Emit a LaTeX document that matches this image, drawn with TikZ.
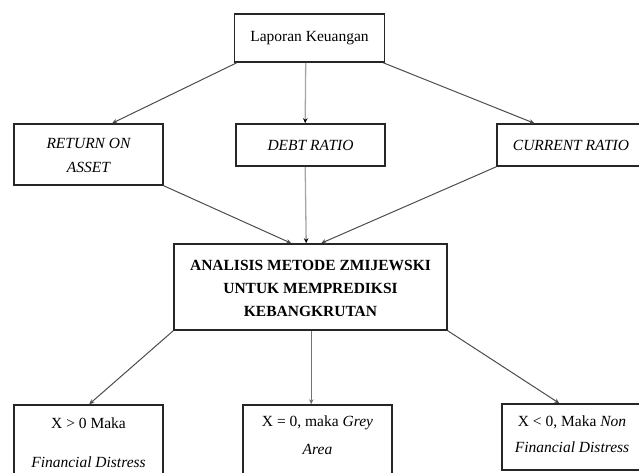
\documentclass[tikz,border=0pt]{standalone}
\usepackage{fontspec}
\setmainfont{Liberation Serif}
\usetikzlibrary{arrows.meta,calc}
\begin{document}
\begin{tikzpicture}[x=1pt,y=-1pt,
  box/.style={draw=black!85,line width=1.6pt,fill=white,inner sep=0pt,align=center},
  conn/.style={draw=black!70,line width=1pt,-{Stealth[length=5pt,width=4.5pt]}},
  lconn/.style={draw=black!35,line width=1.3pt,-{Stealth[length=5pt,width=4.5pt,color=black]}},
  txt/.style={font=\fontsize{15.5}{17}\selectfont}]
\useasboundingbox (0,0) rectangle (639,472);
% boxes
\node[box,minimum width=150pt,minimum height=48pt] (lap) at (309.5,38) {};
\node[txt] (laptxt) at (309.5,38) {Laporan Keuangan};
\node[box,minimum width=149pt,minimum height=61pt] (roa) at (88.5,154.5) {};
\node[align=center,font=\fontsize{15.5}{24}\selectfont\itshape] (roatxt) at (88.5,155) {RETURN ON\\ ASSET};
\node[box,minimum width=149pt,minimum height=42pt] (debt) at (310.5,145) {};
\node[txt] (debttxt) at (310.5,145) {\itshape DEBT RATIO};
\node[box,minimum width=150pt,minimum height=42pt] (cur) at (572,145) {};
\node[txt] (curtxt) at (571,145) {\itshape CURRENT RATIO};
\node[box,minimum width=273pt,minimum height=86pt] (main) at (310.5,287) {};
\node[align=center,font=\fontsize{15.5}{23}\selectfont\bfseries] (maintxt) at (310.5,288) {ANALISIS METODE ZMIJEWSKI\\ UNTUK MEMPREDIKSI\\ KEBANGKRUTAN};
\node[box,minimum width=149pt,minimum height=70pt] (b1) at (88.5,440) {};
\node[txt] (b1a) at (88.5,423) {X > 0 Maka};
\node[txt] (b1b) at (88.5,462) {\itshape Financial Distress};
\node[box,minimum width=149pt,minimum height=70pt] (b2) at (317.5,440) {};
\node[txt] (b2a) at (317.5,423) {X = 0, maka \itshape Grey};
\node[txt] (b2b) at (317.5,449) {\itshape Area};
\node[box,minimum width=150pt,minimum height=66pt] (b3) at (577,437) {};
\node[txt] (b3a) at (572,422) {X < 0, Maka \itshape Non};
\node[txt] (b3b) at (572,447) {\itshape Financial Distress};
% connectors
\draw[conn] ($(lap.south west)+(3,0)$) -- ($(roa.north west)+(99,0)$);
\draw[lconn] ($(lap.south west)+(72,0)$) -- ($(debt.north west)+(70,0)$);
\draw[conn] ($(lap.south east)+(-2,0)$) -- ($(cur.north west)+(38,0)$);
\draw[conn] (roa.south east) -- ($(main.north west)+(118,0)$);
\draw[lconn] ($(debt.south west)+(70,0)$) -- ($(main.north west)+(133,0)$);
\draw[conn] (cur.south west) -- ($(main.north west)+(148,0)$);
\draw[conn] (main.south west) -- ($(b1.north west)+(76,0)$);
\draw[conn,draw=black!55] ($(main.south west)+(138,0)$) -- ($(b2.north west)+(69,0)$);
\draw[conn] (main.south east) -- ($(b3.north west)+(58,0)$);
\end{tikzpicture}
\end{document}
